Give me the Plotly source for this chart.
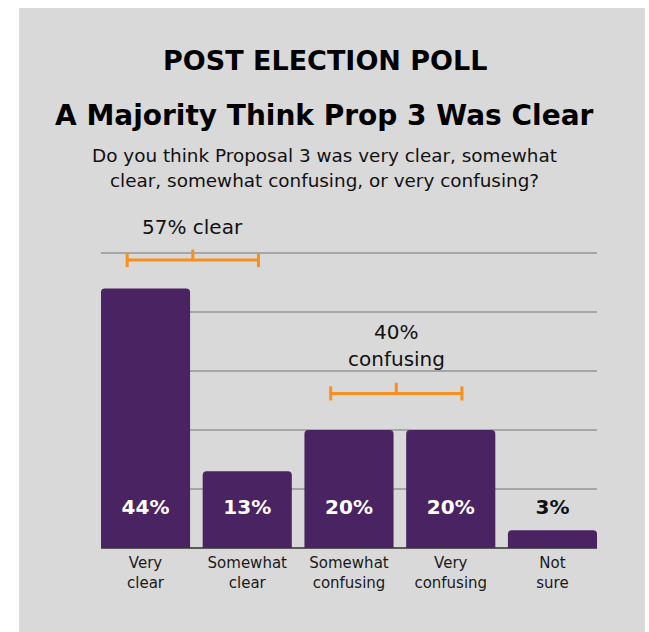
import plotly.graph_objects as go

# ---- data ----
categories = ["Very<br>clear", "Somewhat<br>clear", "Somewhat<br>confusing", "Very<br>confusing", "Not<br>sure"]
values = [44, 13, 20, 20, 3]
value_labels = ["44%", "13%", "20%", "20%", "3%"]
grid_ticks = [0, 10, 20, 30, 40, 50]
group_clear = [0, 1]
group_confusing = [2, 3]
group_clear_label = ["57% clear"]
group_confusing_label = ["40%", "confusing"]

title_main = "POST ELECTION POLL"
title_sub = "A Majority Think Prop 3 Was Clear"
question = ["Do you think Proposal 3 was very clear, somewhat",
            "clear, somewhat confusing, or very confusing?"]

# ---- style ----
BAR = "#4a2363"
ORANGE = "#f7901e"
PANEL = "#d9d9d9"
GRID = "#a6a6a6"
FONT = "DejaVu Sans"
W, H = 649, 632
ML, MR, MT, MB = 101, 52, 194, 84
PX_PER_UNIT = (H - MT - MB) / 60.0
LABEL_Y = 6.6

xs = list(range(len(categories)))
fig = go.Figure()
fig.add_trace(go.Bar(x=xs, y=values, marker=dict(color=BAR, line=dict(width=0)),
                     width=0.876, hoverinfo="skip"))
fig.add_trace(go.Scatter(
    x=xs, y=[LABEL_Y] * len(xs), mode="text", text=value_labels,
    textfont=dict(family=FONT, size=20, weight=700,
                  color=["white" if v > LABEL_Y + 2 else "#111111" for v in values]),
    hoverinfo="skip"))

shapes = [dict(type="rect", xref="paper", yref="paper",
               x0=(19 - ML) / (W - ML - MR), x1=(645 - ML) / (W - ML - MR),
               y0=(H - MB - 640) / (H - MT - MB), y1=(H - MB - 8) / (H - MT - MB),
               fillcolor=PANEL, line=dict(width=0), layer="below")]

annotations = []


def bracket(group, yv, lines, label_y):
    c = sum(group) / len(group) - 0.035
    x0, x1 = c - 0.645, c + 0.645
    ln = dict(color=ORANGE, width=3)
    shapes.append(dict(type="line", xref="x", yref="y", x0=x0, x1=x1, y0=yv, y1=yv, line=ln))
    for xe in (x0, x1):
        shapes.append(dict(type="line", xref="x", yref="y", x0=xe, x1=xe,
                           y0=yv - 1.2, y1=yv + 1.2, line=ln))
    shapes.append(dict(type="line", xref="x", yref="y", x0=c, x1=c,
                       y0=yv, y1=yv + 1.8, line=ln))
    for i, t in enumerate(lines):
        annotations.append(dict(x=c, y=label_y - i * 27 / PX_PER_UNIT, xref="x", yref="y",
                                text=t, showarrow=False,
                                font=dict(family=FONT, size=20, color="#111111"),
                                xanchor="center", yanchor="middle"))


bracket(group_clear, 48.8, group_clear_label, 54.4)
bracket(group_confusing, 26.2, group_confusing_label, 36.6)


def py(p):
    return (H - MB - p) / (H - MT - MB)


cx = (W / 2 - ML) / (W - ML - MR)
annotations += [
    dict(x=cx, y=py(60), xref="paper", yref="paper", text=title_main, showarrow=False,
         font=dict(family=FONT, size=27, weight=800, color="#000000"), xanchor="center", yanchor="middle"),
    dict(x=cx, y=py(115), xref="paper", yref="paper", text=title_sub, showarrow=False,
         font=dict(family=FONT, size=28, weight=800, color="#000000"), xanchor="center", yanchor="middle"),
]
for i, t in enumerate(question):
    annotations.append(dict(x=cx, y=py(155 + 25 * i), xref="paper", yref="paper", text=t,
                            showarrow=False, font=dict(family=FONT, size=18.4, color="#111111"),
                            xanchor="center", yanchor="middle"))

fig.update_layout(
    width=W, height=H,
    margin=dict(l=ML, r=MR, t=MT, b=MB, pad=0),
    paper_bgcolor="white", plot_bgcolor="rgba(0,0,0,0)",
    showlegend=False, shapes=shapes, annotations=annotations,
    bargap=0.124, barcornerradius=4,
    font=dict(family=FONT),
)
fig.update_xaxes(range=[-0.4375, 4.4375], tickvals=xs, ticktext=categories,
                 tickfont=dict(family=FONT, size=15, color="#1a1a1a"), ticklabelstandoff=4,
                 showgrid=False, zeroline=False, showline=False, ticks="", fixedrange=True)
fig.update_yaxes(range=[0, 60], tickvals=grid_ticks, showticklabels=False,
                 showgrid=True, gridcolor=GRID, gridwidth=1.5, fixedrange=True,
                 zeroline=True, zerolinecolor="#5a5a5a", zerolinewidth=1.5, ticks="")

fig.write_html("out.html", config={"displayModeBar": False},
               post_script="document.body.style.margin='0';")
